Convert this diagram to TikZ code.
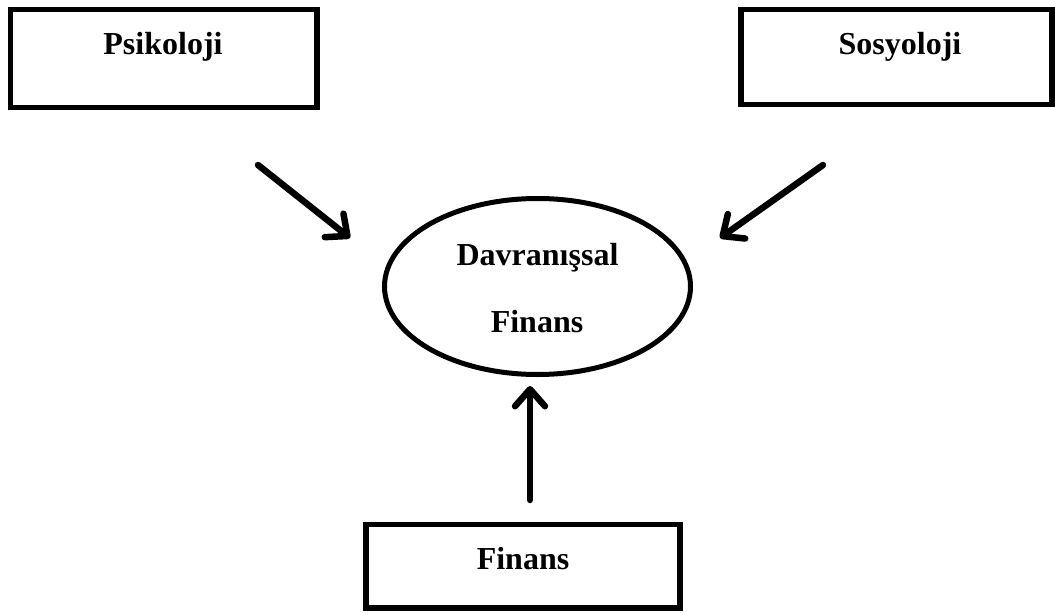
\documentclass[tikz,border=0pt]{standalone}
\usepackage{fontspec}
\setmainfont{Liberation Serif}
\usetikzlibrary{arrows.meta,shapes.geometric}
\begin{document}
\begin{tikzpicture}[x=1pt,y=-1pt,
  box/.style={draw,line width=5.5pt,rectangle,inner sep=0pt,outer sep=0pt},
  lbl/.style={font=\fontsize{32}{38}\selectfont\bfseries,inner sep=0pt,anchor=base},
  conn/.style={line width=6.5pt,line cap=round,-{Straight Barb[length=17pt,width=30pt,line cap=round,line join=round]}}]
\useasboundingbox (0,0) rectangle (1055,615);
\node[box,minimum width=306.5pt,minimum height=98pt] (psi) at (163.75,58.5) {};
\node[lbl] (psit) at (163,55) {Psikoloji};
\node[box,minimum width=311pt,minimum height=95pt] (sos) at (896.5,57) {};
\node[lbl] (sost) at (900,55) {Sosyoloji};
\node[box,minimum width=314pt,minimum height=83.5pt] (fin) at (523,566.25) {};
\node[lbl] (fint) at (523,569) {Finans};
\node[draw,ellipse,line width=5pt,minimum width=306pt,minimum height=176pt,inner sep=0pt] (df) at (537.5,286.5) {};
\node[lbl] (dft1) at (537.5,265) {Davranışsal};
\node[lbl] (dft2) at (537,332) {Finans};
\coordinate (a1) at (258,165);
\coordinate (a1e) at (350,238);
\coordinate (a2) at (823,165);
\coordinate (a2e) at (720,238);
\coordinate (a3) at (530,500);
\coordinate (a3e) at (530,386);
\draw[conn] (a1) -- (a1e);
\draw[conn] (a2) -- (a2e);
\draw[conn] (a3) -- (a3e);
\end{tikzpicture}
\end{document}
